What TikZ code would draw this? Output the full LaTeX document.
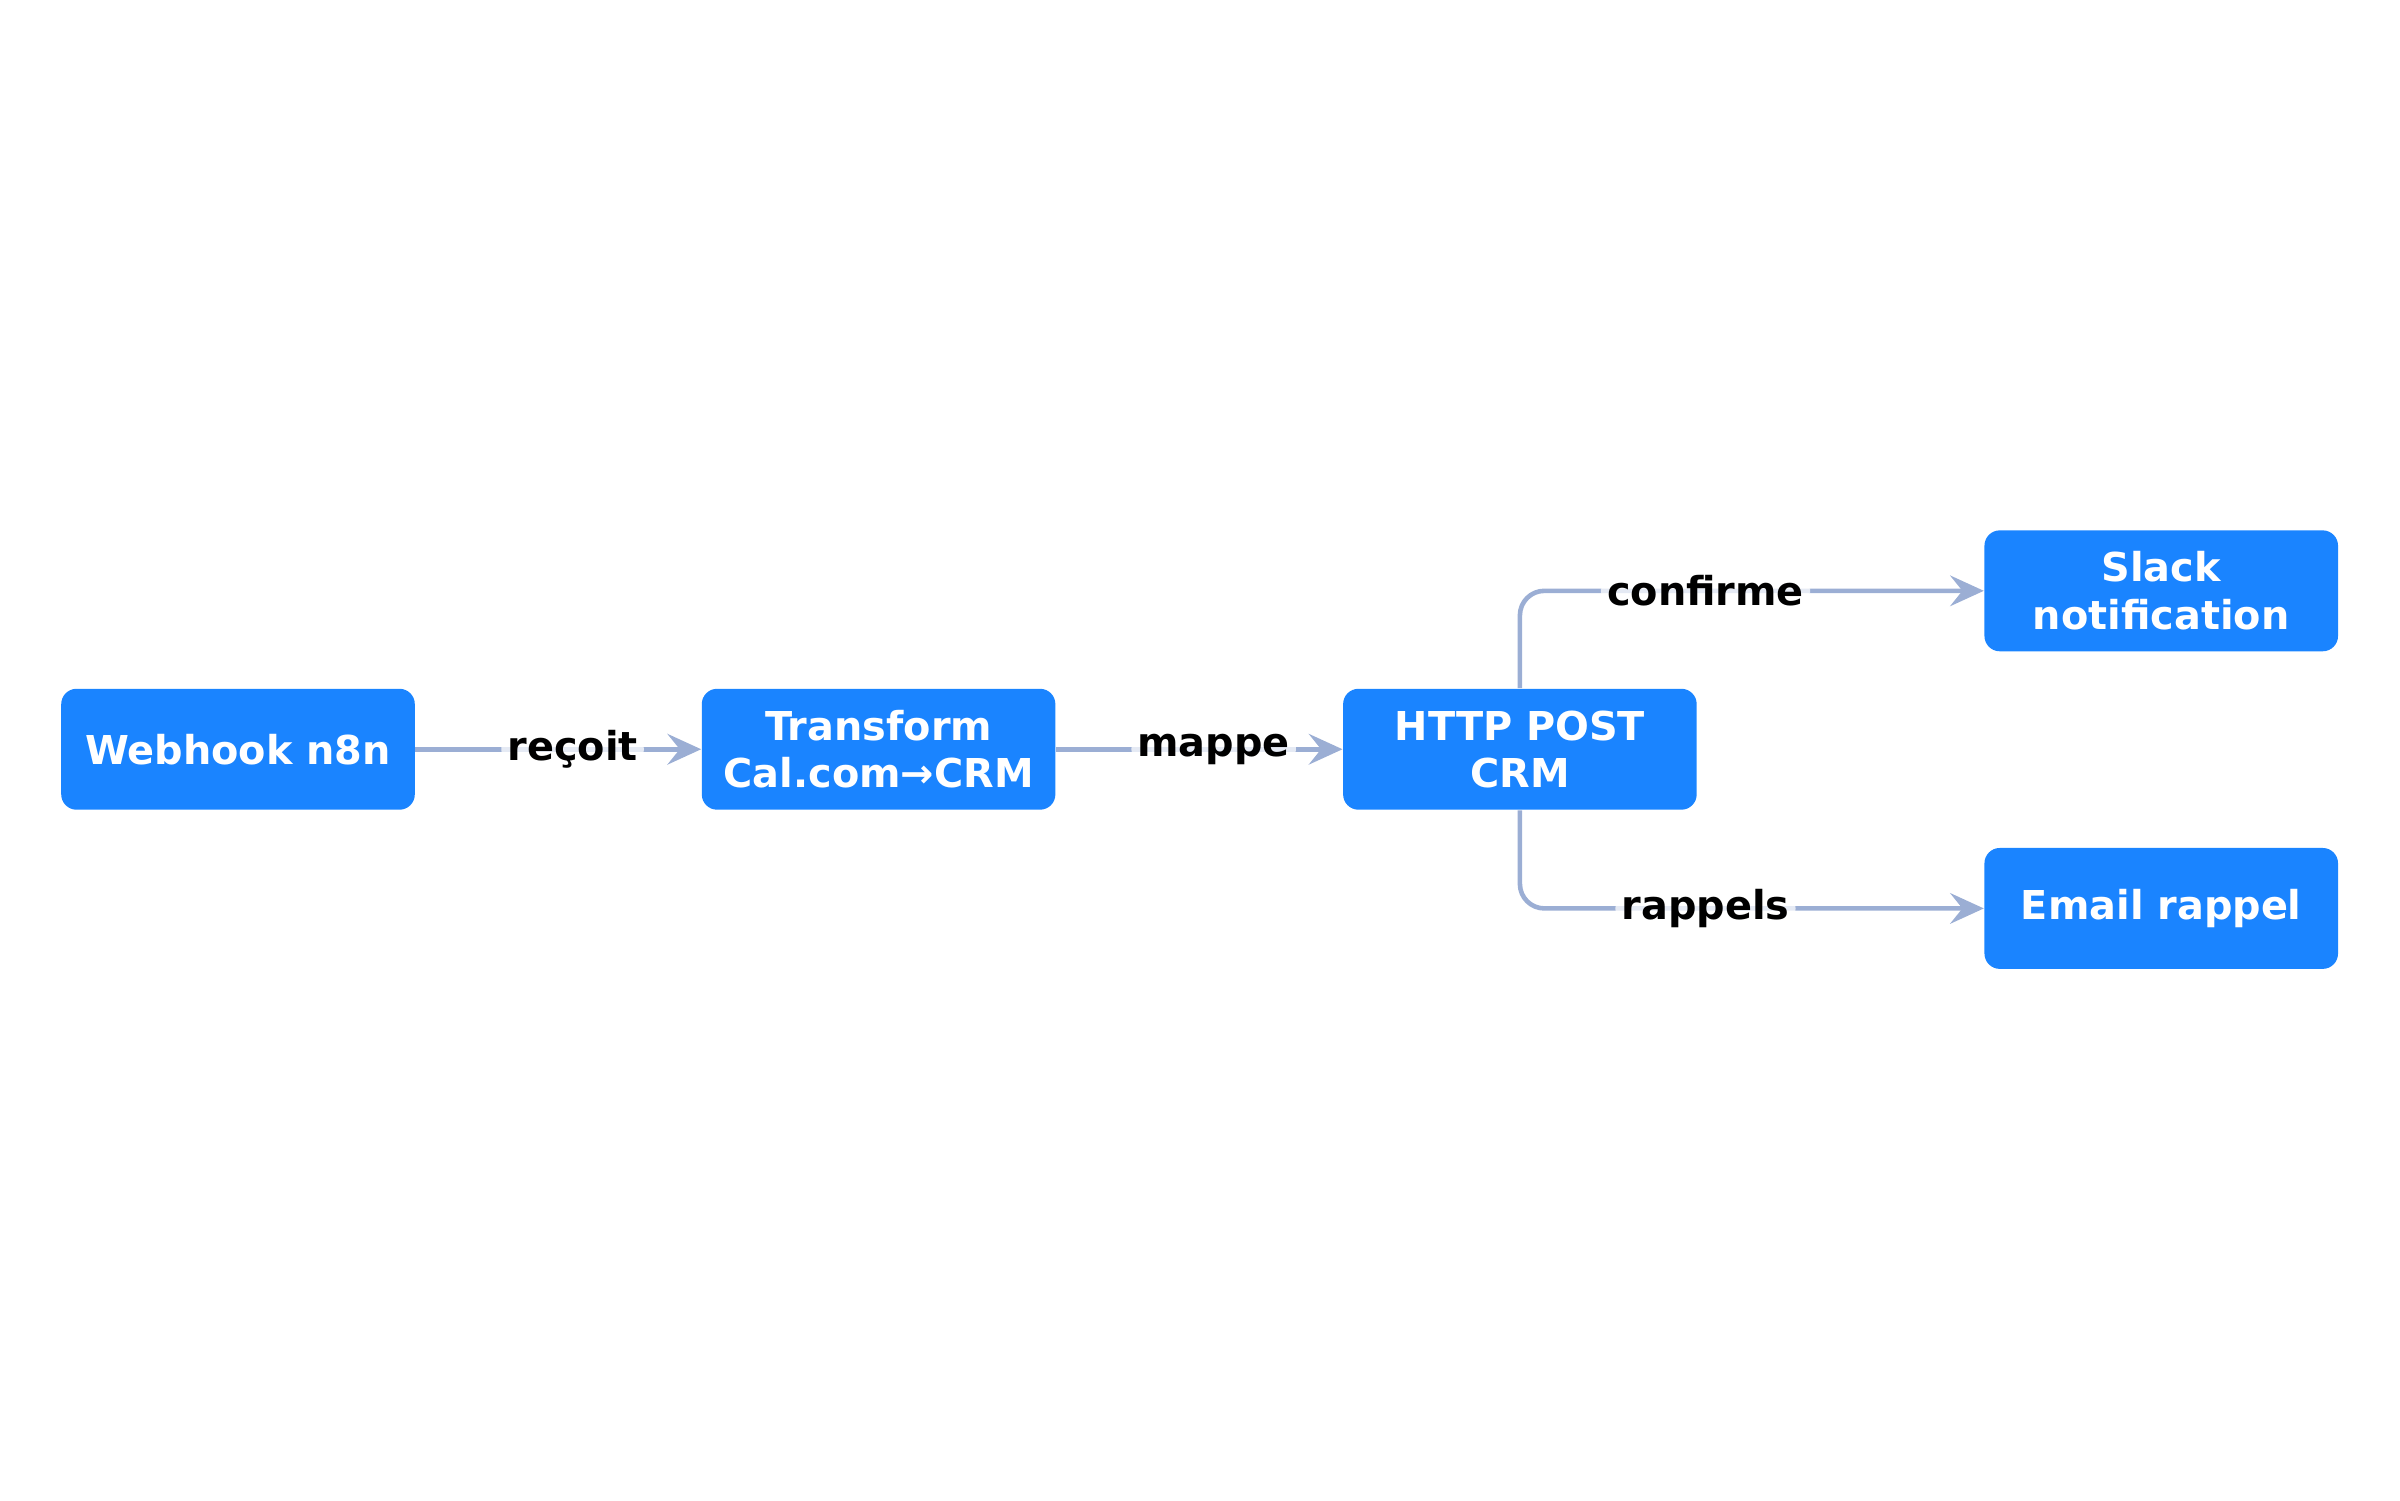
\documentclass[tikz,border=0pt]{standalone}
\usepackage{fontspec}
\setmainfont{DejaVu Sans}
\usetikzlibrary{arrows.meta}
\begin{document}
\begin{tikzpicture}[x=0.5pt,y=-0.5pt,
  box/.style={fill=boxblue, rounded corners=5pt, minimum width=115.5pt, minimum height=39.5pt, text=white, font=\bfseries\fontsize{13}{15.5}\selectfont, align=center, inner sep=0pt},
  edge/.style={draw=edgecol, line width=1.5pt, -{Stealth[length=11pt,width=10pt,inset=4pt]}, rounded corners=8pt},
  lab/.style={fill=white, fill opacity=0.75, text opacity=1, font=\bfseries\fontsize{13}{15.5}\selectfont, inner sep=2pt}]
\definecolor{boxblue}{HTML}{1A84FF}
\definecolor{edgecol}{HTML}{9BAED4}
\useasboundingbox (0,0) rectangle (1568,980);
\node[box] (a) at (155.5,489.5) {Webhook n8n};
\node[box] (b) at (574,489.5) {Transform\\Cal.com→CRM};
\node[box] (c) at (993,489.5) {HTTP POST\\CRM};
\node[box] (d) at (1412,386) {Slack\\notification};
\node[box] (e) at (1412,593.5) {Email rappel};
\draw[edge] (a) -- node[lab,pos=0.55]{reçoit} (b);
\draw[edge] (b) -- node[lab,pos=0.55]{mappe} (c);
\draw[edge] (c.north) |- node[lab,pos=0.7]{confirme} (d.west);
\draw[edge] (c.south) |- node[lab,pos=0.7]{rappels} (e.west);
\end{tikzpicture}
\end{document}
